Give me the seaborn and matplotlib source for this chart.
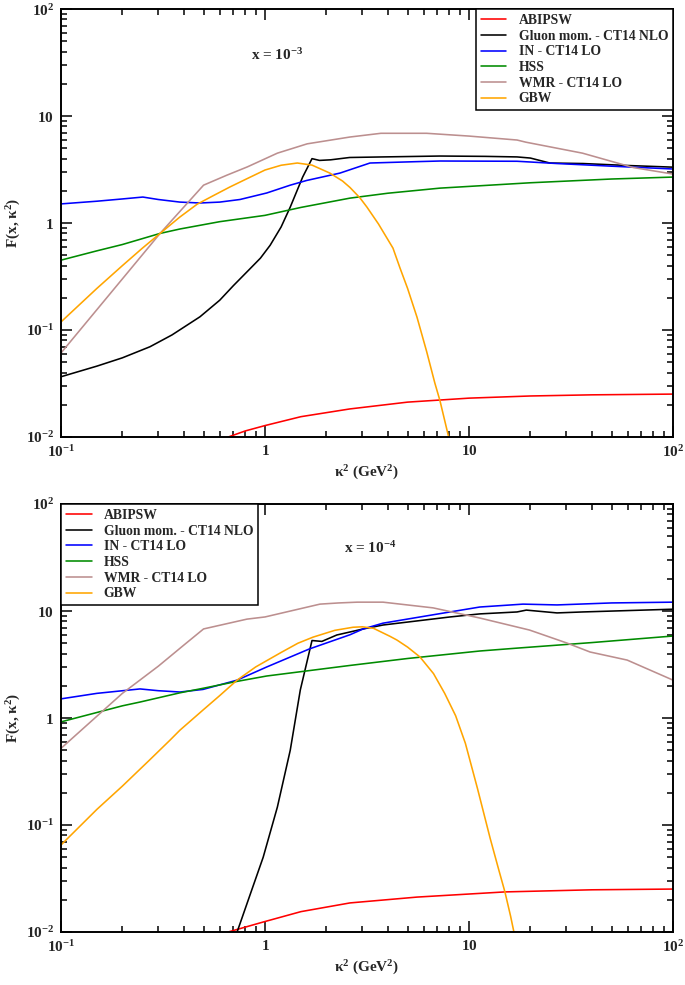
import numpy as np
import pandas as pd
import matplotlib
matplotlib.use("Agg")
import matplotlib.pyplot as plt
import seaborn as sns
from matplotlib.ticker import LogLocator, FuncFormatter, NullFormatter

# ---- x = 10^-3 panel ----
abipsw_k2_3 = [0.66, 0.8, 1.0, 1.5, 2.6, 5.0, 10.0, 20.0, 40.0, 100.0]
abipsw_f_3 = [0.0100, 0.0114, 0.0128, 0.0155, 0.0183, 0.0212, 0.0231, 0.0242, 0.0248, 0.0252]

gluon_k2_3 = [0.1, 0.15, 0.2, 0.273, 0.35, 0.48, 0.6, 0.70, 0.84, 0.95, 1.06, 1.2, 1.33, 1.53, 1.70,
              1.85, 2.1, 2.6, 3.79, 7.2, 12.0, 17.2, 20.0, 24.9, 36.2, 60.0, 100.0]
gluon_f_3 = [0.0366, 0.046, 0.055, 0.0698, 0.090, 0.133, 0.19, 0.26, 0.37, 0.47, 0.62, 0.92, 1.41, 2.69, 4.0,
             3.85, 3.9, 4.1, 4.15, 4.23, 4.2, 4.15, 4.05, 3.64, 3.6, 3.45, 3.33]

in_k2_3 = [0.1, 0.15, 0.2, 0.252, 0.3, 0.383, 0.48, 0.6, 0.754, 1.02, 1.33, 1.6, 2.33, 3.27,
           5.56, 7.2, 17.2, 20.0, 27.0, 50.0, 100.0]
in_f_3 = [1.51, 1.6, 1.68, 1.75, 1.66, 1.57, 1.54, 1.57, 1.66, 1.91, 2.26, 2.5, 2.93, 3.64,
          3.75, 3.8, 3.78, 3.72, 3.6, 3.4, 3.2]

hss_k2_3 = [0.1, 0.15, 0.2, 0.306, 0.383, 0.6, 1.0, 1.5, 2.61, 4.0, 7.2, 10.0, 20.0, 50.0, 100.0]
hss_f_3 = [0.45, 0.55, 0.63, 0.80, 0.88, 1.03, 1.18, 1.40, 1.71, 1.9, 2.12, 2.2, 2.38, 2.58, 2.69]

wmr_k2_3 = [0.1, 0.306, 0.5, 0.65, 0.82, 1.15, 1.61, 2.61, 3.7, 6.2, 10.0, 17.2, 19.0, 36.0, 64.0, 100.0]
wmr_f_3 = [0.061, 0.80, 2.26, 2.8, 3.35, 4.5, 5.5, 6.37, 6.9, 6.9, 6.5, 5.97, 5.7, 4.5, 3.3, 2.87]

gbw_k2_3 = [0.1, 0.15, 0.2, 0.25, 0.306, 0.383, 0.465, 0.56, 0.672, 0.8, 1.0, 1.2, 1.44, 1.7, 2.08,
            2.4, 2.61, 2.92, 3.16, 3.6, 4.24, 4.59, 5.0, 5.56, 6.2, 6.8, 7.2, 7.6, 7.9, 8.1]
gbw_f_3 = [0.119, 0.245, 0.40, 0.58, 0.80, 1.14, 1.50, 1.81, 2.17, 2.55, 3.13, 3.47, 3.64, 3.48, 2.93,
           2.47, 2.15, 1.72, 1.41, 0.98, 0.583, 0.38, 0.245, 0.132, 0.063, 0.032, 0.022, 0.0143, 0.0105, 0.009]

# ---- x = 10^-4 panel ----
abipsw_k2_4 = [0.66, 0.98, 1.5, 2.61, 5.56, 15.0, 40.0, 100.0]
abipsw_f_4 = [0.0100, 0.0124, 0.0155, 0.0187, 0.0212, 0.0237, 0.0248, 0.0252]

gluon_k2_4 = [0.73, 0.85, 0.98, 1.15, 1.33, 1.49, 1.70, 1.9, 2.25, 2.61, 3.03, 3.79, 8.07, 11.3,
              17.2, 19.1, 27.0, 36.0, 100.0]
gluon_f_4 = [0.0100, 0.023, 0.050, 0.147, 0.50, 1.83, 5.3, 5.2, 5.97, 6.37, 6.8, 7.4, 8.8, 9.4,
             9.8, 10.2, 9.6, 9.8, 10.4]

in_k2_4 = [0.1, 0.15, 0.244, 0.3, 0.383, 0.497, 0.73, 1.02, 1.65, 2.61, 3.03, 3.79, 8.07, 11.3,
           18.4, 27.0, 50.0, 100.0]
in_f_4 = [1.51, 1.7, 1.87, 1.8, 1.75, 1.85, 2.26, 3.0, 4.42, 6.0, 6.8, 7.7, 9.8, 10.9,
          11.6, 11.4, 11.9, 12.1]

hss_k2_4 = [0.1, 0.2, 0.244, 0.383, 0.5, 0.73, 1.02, 2.61, 5.0, 11.3, 17.2, 40.0, 100.0]
hss_f_4 = [0.92, 1.3, 1.41, 1.72, 1.9, 2.2, 2.47, 3.1, 3.6, 4.23, 4.5, 5.07, 5.84]

wmr_k2_4 = [0.1, 0.2, 0.3, 0.4, 0.5, 0.816, 1.0, 1.86, 2.3, 2.83, 3.79, 6.67, 11.3, 19.8, 30.2,
            39.2, 59.6, 100.0]
wmr_f_4 = [0.52, 1.7, 3.05, 4.8, 6.8, 8.4, 8.8, 11.6, 11.9, 12.1, 12.1, 10.7, 8.6, 6.64, 5.02,
           4.14, 3.48, 2.26]

gbw_k2_4 = [0.1, 0.15, 0.2, 0.27, 0.342, 0.383, 0.5, 0.6, 0.73, 0.9, 1.2, 1.45, 1.72, 2.2, 2.7, 3.0,
            3.4, 4.1, 4.43, 5.0, 5.75, 6.7, 7.6, 8.6, 9.6, 11.0, 12.7, 14.0, 15.0, 16.0, 16.6, 17.0]
gbw_f_4 = [0.065, 0.14, 0.231, 0.40, 0.62, 0.77, 1.2, 1.62, 2.26, 3.0, 4.1, 5.0, 5.7, 6.6, 7.05, 7.12,
           6.9, 5.8, 5.36, 4.6, 3.72, 2.6, 1.7, 1.05, 0.58, 0.22, 0.075, 0.038, 0.0237, 0.014, 0.0100, 0.008]

labels = ["ABIPSW", "Gluon mom. - CT14 NLO", "IN - CT14 LO", "HSS", "WMR - CT14 LO", "GBW"]
colors = ["#ff0000", "#000000", "#0000ff", "#008b00", "#bc8f8f", "#ffa500"]

panels = [
    ("x = 10$^{\\mathbf{-3}}$", [(abipsw_k2_3, abipsw_f_3), (gluon_k2_3, gluon_f_3), (in_k2_3, in_f_3),
                                   (hss_k2_3, hss_f_3), (wmr_k2_3, wmr_f_3), (gbw_k2_3, gbw_f_3)]),
    ("x = 10$^{\\mathbf{-4}}$", [(abipsw_k2_4, abipsw_f_4), (gluon_k2_4, gluon_f_4), (in_k2_4, in_f_4),
                                   (hss_k2_4, hss_f_4), (wmr_k2_4, wmr_f_4), (gbw_k2_4, gbw_f_4)]),
]

sns.set_style("ticks")
plt.rcParams["font.family"] = ["Liberation Serif", "DejaVu Serif"]
plt.rcParams["font.weight"] = "bold"
plt.rcParams["mathtext.fontset"] = "custom"
plt.rcParams["mathtext.rm"] = "Liberation Serif:bold"
plt.rcParams["mathtext.bf"] = "Liberation Serif:bold"
plt.rcParams["mathtext.it"] = "Liberation Serif:bold"


def log_label(v, pos):
    e = int(round(np.log10(v)))
    if e == 0:
        return "$\\mathbf{1}$"
    if e == 1:
        return "$\\mathbf{10}$"
    return "$\\mathbf{10^{%d}}$" % e


fig = plt.figure(figsize=(6.85, 9.85), dpi=100)
axes = [fig.add_axes([0.089, 0.5563, 0.8935, 0.4345]),
        fig.add_axes([0.089, 0.0538, 0.8935, 0.4345])]

for i, (ax, (title, series)) in enumerate(zip(axes, panels)):
    for (k2, f), lab, col in zip(series, labels, colors):
        df = pd.DataFrame({"k2": k2, "F": f})
        sns.lineplot(data=df, x="k2", y="F", ax=ax, color=col, lw=1.15, label=lab,
                     estimator=None, sort=False)
    ax.set_xscale("log")
    ax.set_yscale("log")
    ax.set_xlim(0.1, 100)
    ax.set_ylim(0.01, 100)
    for sp in ax.spines.values():
        sp.set_visible(True)
        sp.set_linewidth(1.4)
        sp.set_color("black")
    ax.xaxis.set_major_locator(LogLocator(base=10, numticks=10))
    ax.yaxis.set_major_locator(LogLocator(base=10, numticks=10))
    ax.xaxis.set_minor_locator(LogLocator(base=10, subs=np.arange(2, 10), numticks=10))
    ax.yaxis.set_minor_locator(LogLocator(base=10, subs=np.arange(2, 10), numticks=10))
    ax.xaxis.set_major_formatter(FuncFormatter(log_label))
    ax.yaxis.set_major_formatter(FuncFormatter(log_label))
    ax.xaxis.set_minor_formatter(NullFormatter())
    ax.yaxis.set_minor_formatter(NullFormatter())
    ax.tick_params(which="both", direction="in", top=True, right=True, width=1.1,
                   labelsize=11, color="black")
    ax.tick_params(which="major", length=8, pad=5)
    ax.tick_params(which="minor", length=4)
    ax.set_xlabel("κ$^{\\mathbf{2}}$ (GeV$^{\\mathbf{2}}$)", fontsize=11, fontweight="bold", labelpad=3)
    ax.set_ylabel("F(x, κ$^{\\mathbf{2}}$)", fontsize=11, fontweight="bold", labelpad=2)
    ax.grid(False)

    leg_loc = "upper right" if i == 0 else "upper left"
    leg = ax.legend(loc=leg_loc, borderaxespad=0, frameon=True, fancybox=False,
                    prop={"family": "Liberation Serif", "weight": "bold", "size": 9.8},
                    handlelength=1.9, handletextpad=0.9, labelspacing=0.2, borderpad=0.35)
    leg.get_frame().set_edgecolor("black")
    leg.get_frame().set_linewidth(1.1)
    leg.get_frame().set_alpha(1)

    if i == 0:
        ax.text(0.31, 0.88, title, transform=ax.transAxes, fontsize=11, fontweight="bold")
    else:
        ax.text(0.462, 0.885, title, transform=ax.transAxes, fontsize=11, fontweight="bold")

fig.savefig("out.png", dpi=100)
